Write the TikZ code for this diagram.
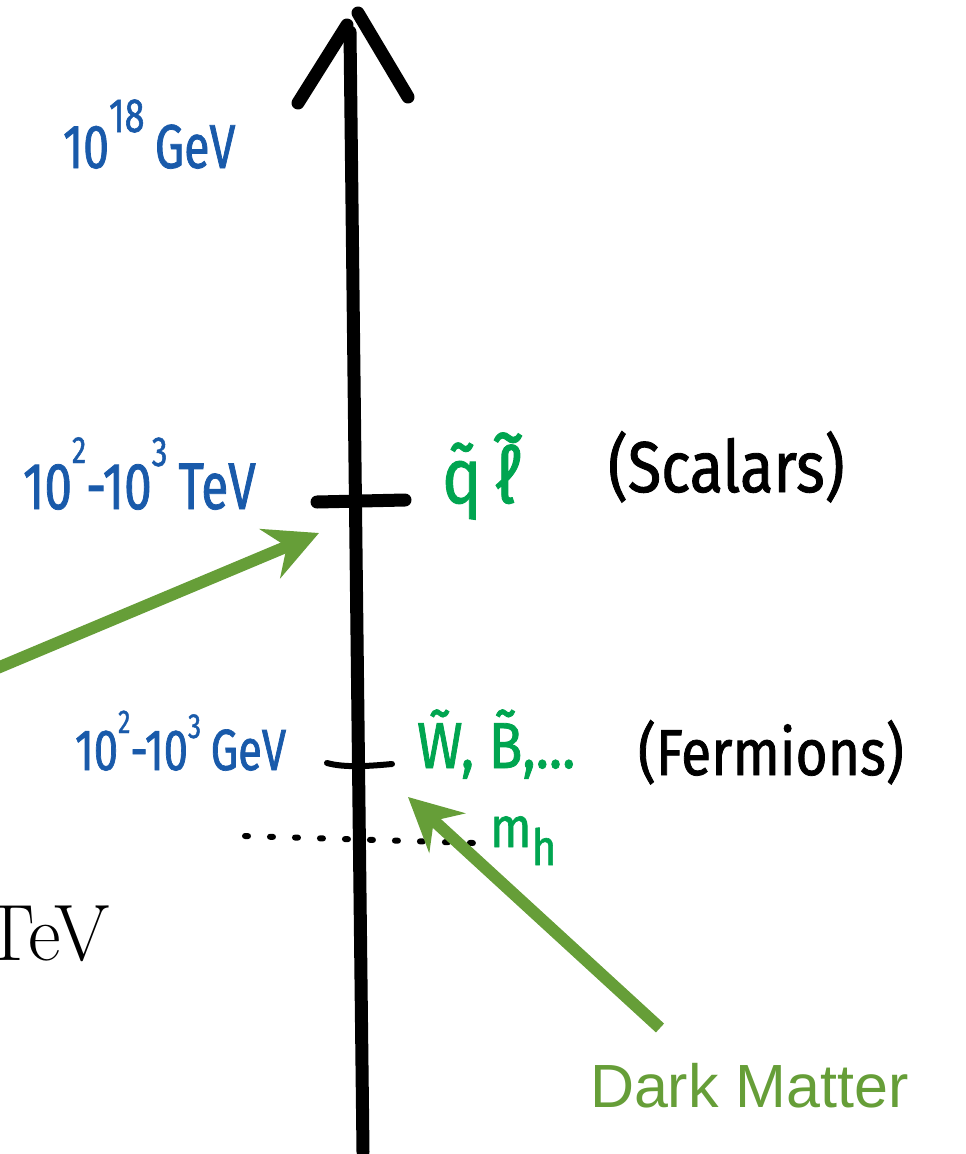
\documentclass[tikz,border=0pt]{standalone}
\usepackage{fontspec}
\usetikzlibrary{arrows.meta}
\newfontfamily\handA[FakeStretch=0.75,FakeBold=1.2]{Fira Sans}
\newfontfamily\handB[FakeStretch=0.85,FakeBold=1.2]{Fira Sans}
\newfontfamily\dmfont{Liberation Sans}
\definecolor{dmgreen}{RGB}{102,158,56}
\definecolor{handgreen}{RGB}{0,165,80}
\definecolor{handblue}{RGB}{25,90,170}
\newcommand\upx[3]{\raisebox{#1pt}{\fontsize{#2}{#2}\selectfont #3}}
\newcommand\tld[2]{{\ooalign{#2\cr\hidewidth\raisebox{#1}{\char"007E}\hidewidth\cr}}}
\begin{document}
\begin{tikzpicture}[x=1pt,y=-1pt,
  axisline/.style={line width=13pt,line cap=round,line join=round},
  lbl/.style={inner sep=0pt,outer sep=0pt,anchor=base west},
  bluelbl/.style={lbl,text=handblue},
  greenlbl/.style={lbl,text=handgreen},
  blacklbl/.style={lbl,text=black},
  dmarrow/.style={draw=dmgreen,line width=12pt,-{Stealth[length=53pt,width=53pt,inset=18pt]}}]
\useasboundingbox (0,0) rectangle (966,1154);
% axis
\coordinate (axbot) at (363,1152);
\coordinate (axtop) at (350,32);
\draw[axisline] (axbot) -- (axtop);
\coordinate (hl) at (298,103);
\coordinate (hla) at (347,25);
\coordinate (hra) at (358,13);
\coordinate (hr) at (408,97);
\draw[axisline] (hl) -- (hla);
\draw[axisline] (hra) -- (hr);
% ticks
\coordinate (t1a) at (317,502);
\coordinate (t1b) at (405,500);
\draw[axisline] (t1a) -- (t1b);
\coordinate (t2a) at (327,763);
\coordinate (t2b) at (392,764);
\draw[line width=6pt,line cap=round] (t2a) .. controls (345,768) and (370,766) .. (t2b);
% dotted line
\coordinate (d1) at (245,836);
\coordinate (d2) at (473,843);
\draw[line width=6pt,line cap=round,dash pattern=on 3pt off 22pt] (d1) -- (d2);
% labels
\node[bluelbl,font=\handA\fontsize{62}{62}\selectfont] (e18) at (63,168) {10\upx{36}{48}{18}\,GeV};
\node[bluelbl,font=\handA\fontsize{66}{66}\selectfont] (tev) at (23,509) {10\upx{46}{38}{2}-10\upx{43}{42}{3}\,TeV};
\node[bluelbl,font=\handA\fontsize{58}{58}\selectfont] (gev) at (75,770) {10\upx{37}{33}{2}-10\upx{32}{35}{3}\,GeV};
\node[greenlbl,font=\handB\fontsize{78}{78}\selectfont] (sq) at (442,503) {q\char"0303\,\tld{0.52em}{ℓ}};
\node[blacklbl,font=\handB\fontsize{72}{72}\selectfont] (scal) at (608,492) {(Scalars)};
\node[greenlbl,font=\handB\fontsize{65}{65}\selectfont] (gau) at (417,768) {W\char"0303, B\char"0303,...};
\node[blacklbl,font=\handB\fontsize{65}{65}\selectfont] (ferm) at (638,775) {(Fermions)};
\node[greenlbl,font=\handB\fontsize{57}{57}\selectfont] (mh) at (490,847) {m\raisebox{-18pt}{\fontsize{50}{50}\selectfont h}};
\node[lbl,anchor=base east,font=\fontsize{80}{80}\selectfont] (tevbig) at (110,960) {TeV};
\node[lbl,text=dmgreen,font=\dmfont\fontsize{61}{61}\selectfont] (dm) at (590,1107) {Dark Matter};
% dark matter arrows
\coordinate (dmA0) at (-5,669);
\coordinate (dmA1) at (319,533);
\draw[dmarrow] (dmA0) -- (dmA1);
\coordinate (dmB0) at (660,1028);
\coordinate (dmB1) at (408,797);
\draw[dmarrow] (dmB0) -- (dmB1);
\end{tikzpicture}
\end{document}
